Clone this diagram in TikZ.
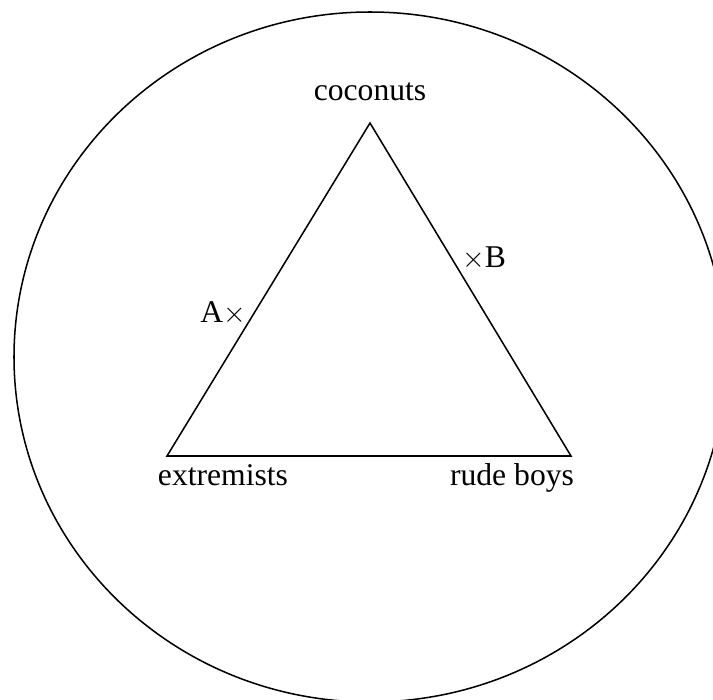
\documentclass[tikz,border=0pt]{standalone}
\usepackage{fontspec}
\setmainfont{Liberation Serif}
\usepackage{tikz}

\begin{document}
\begin{tikzpicture}[x=0.03cm,y=-0.03cm,
    word/.style={font=\fontsize{27}{32}\selectfont,inner sep=0pt,anchor=base},
    edge/.style={line width=1.3pt,line join=miter}
  ]
    \useasboundingbox (0,0) rectangle (713,699);
    % outer ring
    \draw[edge] (370,357) ellipse [x radius=356,y radius=345];
    % triangle corners
    \coordinate (top) at (370,123);
    \coordinate (left) at (167,456);
    \coordinate (right) at (571,456);
    \draw[edge] (top) -- (left) -- (right) -- cycle;
    \node[word] (coconuts) at (370,100) {coconuts};
    \node[word] (extremists) at (223,485) {extremists};
    \node[word] (rudeboys) at (512,485) {rude boys};
    \node[word,anchor=base east] (ptA) at (246,322) {A$\times$};
    \node[word,anchor=base west] (ptB) at (462,267) {$\times$B};
  \end{tikzpicture}
\end{document}
